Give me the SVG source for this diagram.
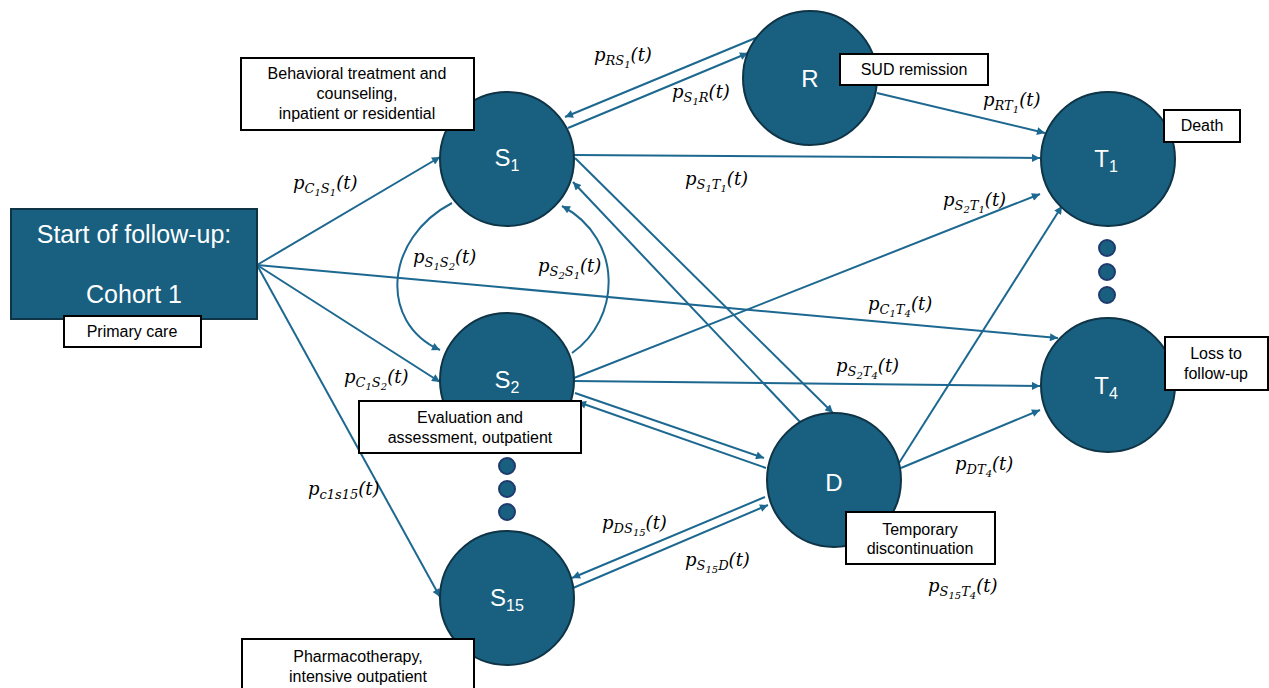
<svg xmlns="http://www.w3.org/2000/svg" width="1269" height="688" viewBox="0 0 1269 688">
<style>
.node{fill:#185f80;stroke:#0e3446;stroke-width:2}
.dot{fill:#185f80;stroke:#1f3a6e;stroke-width:2}
.ln{fill:none;stroke:#1d6890;stroke-width:2}
.box{fill:#fff;stroke:#000;stroke-width:2}
.nt{font-family:"Liberation Sans",Arial,sans-serif;fill:#fff;font-size:24px;text-anchor:middle}
.st{font-size:25px}
.sb{font-size:16px}
.bt{font-family:"Liberation Sans",Arial,sans-serif;fill:#000;font-size:16px;text-anchor:middle}
.m{font-family:"DejaVu Serif",serif;font-style:italic;font-size:18px;fill:#000}
.s{font-size:13px}
.ss{font-size:10px}
</style>
<defs>
<marker id="ah" viewBox="0 0 10 10" refX="10" refY="5" markerWidth="10" markerHeight="8" markerUnits="userSpaceOnUse" orient="auto">
<path d="M0,0 L10,5 L0,10 z" fill="#1d6890"/>
</marker>
</defs>
<g id="connectors">
<line class="ln" x1="257" y1="265" x2="440" y2="157" marker-end="url(#ah)"/>
<line class="ln" x1="257" y1="265" x2="440" y2="382" marker-end="url(#ah)"/>
<line class="ln" x1="257" y1="265" x2="440" y2="597" marker-end="url(#ah)"/>
<line class="ln" x1="257" y1="265" x2="1058" y2="338" marker-end="url(#ah)"/>
<line class="ln" x1="574" y1="155" x2="1040" y2="158" marker-end="url(#ah)"/>
<line class="ln" x1="568" y1="128" x2="748" y2="53" marker-end="url(#ah)"/>
<line class="ln" x1="758" y1="37" x2="565" y2="117" marker-end="url(#ah)"/>
<line class="ln" x1="877" y1="93" x2="1045" y2="133" marker-end="url(#ah)"/>
<path class="ln" d="M452,203 C385,238 378,322 440,350" marker-end="url(#ah)"/>
<path class="ln" d="M572,353 C620,320 625,240 562,206" marker-end="url(#ah)"/>
<line class="ln" x1="575" y1="158" x2="833" y2="413" marker-end="url(#ah)"/>
<line class="ln" x1="801" y1="423" x2="573" y2="182" marker-end="url(#ah)"/>
<line class="ln" x1="574" y1="378" x2="1040" y2="194" marker-end="url(#ah)"/>
<line class="ln" x1="574" y1="381" x2="1040" y2="386" marker-end="url(#ah)"/>
<line class="ln" x1="575" y1="393" x2="764" y2="458" marker-end="url(#ah)"/>
<line class="ln" x1="766" y1="468" x2="578" y2="402" marker-end="url(#ah)"/>
<line class="ln" x1="765" y1="497" x2="572" y2="578" marker-end="url(#ah)"/>
<line class="ln" x1="573" y1="588" x2="768" y2="505" marker-end="url(#ah)"/>
<line class="ln" x1="899" y1="463" x2="1062" y2="206" marker-end="url(#ah)"/>
<line class="ln" x1="901" y1="468" x2="1040" y2="410" marker-end="url(#ah)"/>
</g>
<g id="labels">
<text class="m" x="594" y="61">p<tspan class="s" dy="4">RS</tspan><tspan class="ss" dy="3">1</tspan><tspan dy="-7">(t)</tspan></text>
<text class="m" x="672" y="98">p<tspan class="s" dy="4">S</tspan><tspan class="ss" dy="3">1</tspan><tspan class="s" dy="-3">R</tspan><tspan dy="-4">(t)</tspan></text>
<text class="m" x="983" y="106">p<tspan class="s" dy="4">RT</tspan><tspan class="ss" dy="3">1</tspan><tspan dy="-7">(t)</tspan></text>
<text class="m" x="293" y="189">p<tspan class="s" dy="4">C</tspan><tspan class="ss" dy="3">1</tspan><tspan class="s" dy="-3">S</tspan><tspan class="ss" dy="3">1</tspan><tspan dy="-7">(t)</tspan></text>
<text class="m" x="685" y="185">p<tspan class="s" dy="4">S</tspan><tspan class="ss" dy="3">1</tspan><tspan class="s" dy="-3">T</tspan><tspan class="ss" dy="3">1</tspan><tspan dy="-7">(t)</tspan></text>
<text class="m" x="943" y="206">p<tspan class="s" dy="4">S</tspan><tspan class="ss" dy="3">2</tspan><tspan class="s" dy="-3">T</tspan><tspan class="ss" dy="3">1</tspan><tspan dy="-7">(t)</tspan></text>
<text class="m" x="413" y="263">p<tspan class="s" dy="4">S</tspan><tspan class="ss" dy="3">1</tspan><tspan class="s" dy="-3">S</tspan><tspan class="ss" dy="3">2</tspan><tspan dy="-7">(t)</tspan></text>
<text class="m" x="538" y="272">p<tspan class="s" dy="4">S</tspan><tspan class="ss" dy="3">2</tspan><tspan class="s" dy="-3">S</tspan><tspan class="ss" dy="3">1</tspan><tspan dy="-7">(t)</tspan></text>
<text class="m" x="868" y="310">p<tspan class="s" dy="4">C</tspan><tspan class="ss" dy="3">1</tspan><tspan class="s" dy="-3">T</tspan><tspan class="ss" dy="3">4</tspan><tspan dy="-7">(t)</tspan></text>
<text class="m" x="836" y="372">p<tspan class="s" dy="4">S</tspan><tspan class="ss" dy="3">2</tspan><tspan class="s" dy="-3">T</tspan><tspan class="ss" dy="3">4</tspan><tspan dy="-7">(t)</tspan></text>
<text class="m" x="344" y="383">p<tspan class="s" dy="4">C</tspan><tspan class="ss" dy="3">1</tspan><tspan class="s" dy="-3">S</tspan><tspan class="ss" dy="3">2</tspan><tspan dy="-7">(t)</tspan></text>
<text class="m" x="308" y="495">p<tspan class="s" dy="4">c1s15</tspan><tspan dy="-4">(t)</tspan></text>
<text class="m" x="955" y="470">p<tspan class="s" dy="4">DT</tspan><tspan class="ss" dy="3">4</tspan><tspan dy="-7">(t)</tspan></text>
<text class="m" x="602" y="529">p<tspan class="s" dy="4">DS</tspan><tspan class="ss" dy="3">15</tspan><tspan dy="-7">(t)</tspan></text>
<text class="m" x="685" y="566">p<tspan class="s" dy="4">S</tspan><tspan class="ss" dy="3">15</tspan><tspan class="s" dy="-3">D</tspan><tspan dy="-4">(t)</tspan></text>
<text class="m" x="928" y="592">p<tspan class="s" dy="4">S</tspan><tspan class="ss" dy="3">15</tspan><tspan class="s" dy="-3">T</tspan><tspan class="ss" dy="3">4</tspan><tspan dy="-7">(t)</tspan></text>
</g>
<g id="start">
<rect class="node" x="11" y="209" width="246" height="110"/>
<text class="nt st" x="134" y="243">Start of follow-up:</text>
<text class="nt st" x="134" y="303">Cohort 1</text>
<rect class="box" x="64" y="316" width="137" height="31"/>
<text class="bt" x="132" y="337">Primary care</text>
</g>
<g id="S1">
<circle class="node" cx="507" cy="159" r="67"/>
<text class="nt" x="507" y="166">S<tspan class="sb" dy="5">1</tspan></text>
<rect class="box" x="241" y="58" width="233" height="72"/>
<text class="bt" x="357" y="79">Behavioral treatment and</text>
<text class="bt" x="357" y="99">counseling,</text>
<text class="bt" x="357" y="119">inpatient or residential</text>
</g>
<g id="S2">
<circle class="node" cx="507" cy="380" r="67"/>
<text class="nt" x="507" y="388">S<tspan class="sb" dy="5">2</tspan></text>
<rect class="box" x="359" y="401" width="222" height="52"/>
<text class="bt" x="470" y="423">Evaluation and</text>
<text class="bt" x="470" y="443">assessment, outpatient</text>
</g>
<g id="dots-s">
<circle class="dot" cx="507" cy="466" r="8"/>
<circle class="dot" cx="507" cy="489" r="8"/>
<circle class="dot" cx="507" cy="512" r="8"/>
</g>
<g id="S15">
<circle class="node" cx="507" cy="598" r="67"/>
<text class="nt" x="507" y="606">S<tspan class="sb" dy="5">15</tspan></text>
<rect class="box" x="242" y="639" width="232" height="55"/>
<text class="bt" x="358" y="662">Pharmacotherapy,</text>
<text class="bt" x="358" y="682">intensive outpatient</text>
</g>
<g id="R">
<circle class="node" cx="810" cy="78" r="67"/>
<text class="nt" x="810" y="87">R</text>
<rect class="box" x="840" y="54" width="148" height="31"/>
<text class="bt" x="914" y="75">SUD remission</text>
</g>
<g id="D">
<circle class="node" cx="834" cy="480" r="67"/>
<text class="nt" x="834" y="491">D</text>
<rect class="box" x="846" y="512" width="149" height="52"/>
<text class="bt" x="920" y="535">Temporary</text>
<text class="bt" x="920" y="554">discontinuation</text>
</g>
<g id="T1">
<circle class="node" cx="1108" cy="159" r="67"/>
<text class="nt" x="1106" y="167">T<tspan class="sb" dy="5">1</tspan></text>
<rect class="box" x="1164" y="110" width="76" height="32"/>
<text class="bt" x="1202" y="131">Death</text>
</g>
<g id="dots-t">
<circle class="dot" cx="1107" cy="248" r="8"/>
<circle class="dot" cx="1107" cy="272" r="8"/>
<circle class="dot" cx="1107" cy="295" r="8"/>
</g>
<g id="T4">
<circle class="node" cx="1108" cy="385" r="67"/>
<text class="nt" x="1106" y="394">T<tspan class="sb" dy="5">4</tspan></text>
<rect class="box" x="1165" y="337" width="103" height="53"/>
<text class="bt" x="1216" y="359">Loss to</text>
<text class="bt" x="1216" y="379">follow-up</text>
</g>
</svg>
